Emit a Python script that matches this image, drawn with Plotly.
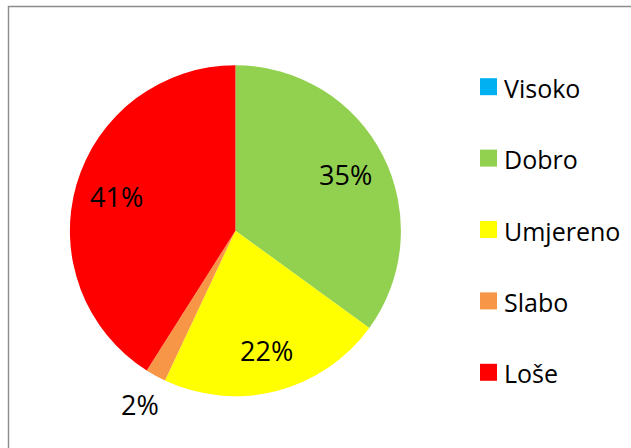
import math
import plotly.graph_objects as go

categories = ["Visoko", "Dobro", "Umjereno", "Slabo", "Loše"]
values = [0, 35, 22, 2, 41]
colors = ["#00B0F0", "#92D050", "#FFFF00", "#F79646", "#FF0000"]

W, H = 631, 448
CX, CY, R = 235.4, 230.7, 165.5  # pie centre / radius in pixels

fig = go.Figure(go.Pie(
    labels=categories,
    values=values,
    marker=dict(colors=colors, line=dict(width=0)),
    sort=False,
    direction="clockwise",
    rotation=0,
    textinfo="none",
    hoverinfo="label+percent",
    showlegend=False,
    domain=dict(x=[(CX - R) / W, (CX + R) / W], y=[1 - (CY + R) / H, 1 - (CY - R) / H]),
))

font = "Open Sans, Liberation Sans, sans-serif"
annotations = []
shapes = []

# percentage labels placed along each slice's mid angle
total = sum(values)
cum = 0
for cat, v in zip(categories, values):
    if v > 0:
        mid = (cum + v / 2) / total * 2 * math.pi
        frac = 0.75 if v / total >= 0.05 else 1.2
        px = CX + frac * R * math.sin(mid)
        py = CY - frac * R * math.cos(mid)
        annotations.append(dict(
            x=px / W, y=1 - py / H, xref="paper", yref="paper",
            text=f"{v / total:.0%}", showarrow=False,
            xanchor="center", yanchor="middle",
            font=dict(family=font, size=27, color="#000000"),
        ))
    cum += v

# legend on the right
LEG_X, LEG_Y0, LEG_DY, SQ = 480, 86.7, 71.4, 17
for i, (cat, col) in enumerate(zip(categories, colors)):
    yc = LEG_Y0 + i * LEG_DY
    shapes.append(dict(
        type="rect", xref="paper", yref="paper",
        x0=LEG_X / W, x1=(LEG_X + SQ) / W,
        y0=1 - (yc + SQ / 2) / H, y1=1 - (yc - SQ / 2) / H,
        fillcolor=col, line=dict(width=0),
    ))
    annotations.append(dict(
        x=(LEG_X + SQ + 5) / W, y=1 - (yc + 1) / H, xref="paper", yref="paper",
        text=cat, showarrow=False, xanchor="left", yanchor="middle",
        font=dict(family=font, size=25, color="#000000"),
    ))

# chart area border
shapes.append(dict(
    type="rect", xref="paper", yref="paper",
    x0=8.5 / W, x1=1.1, y0=-0.1, y1=1 - 6.5 / H,
    line=dict(color="#8C8C8C", width=1.4), fillcolor="rgba(0,0,0,0)",
))

fig.update_layout(
    width=W, height=H, autosize=False,
    margin=dict(l=0, r=0, t=0, b=0),
    paper_bgcolor="white", plot_bgcolor="white",
    annotations=annotations, shapes=shapes,
)

fig.write_html(
    "out.html",
    config={"displayModeBar": False},
    post_script="document.body.style.margin='0';document.body.style.overflow='hidden';",
)
